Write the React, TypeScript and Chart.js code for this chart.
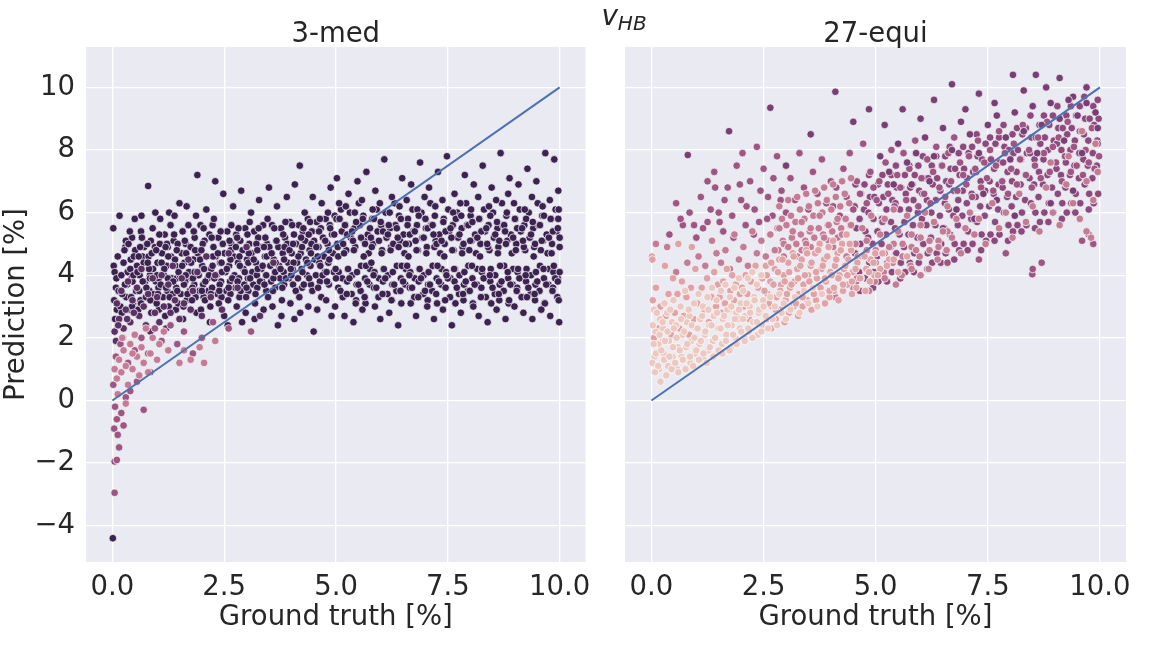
import React, { useEffect, useRef } from 'react';
import { Chart, registerables } from 'chart.js';

Chart.register(...registerables);

// axis ticks and limits, same for both panels
const xTicks = [0, 2.5, 5, 7.5, 10];
const yTicks = [-4, -2, 0, 2, 4, 6, 8, 10];
const xLimits = [-0.59, 10.58];
const yLimits = [-5.16, 11.29];
const identityLine: [number, number][] = [[0, 0], [10, 10]];

// seaborn cubehelix shades, light -> dark
const shades = ['#ebc8c2', '#dda3a6', '#c27c96', '#9d5683', '#8a4a7e', '#5a3163', '#3b2250', '#783f74'];

// 3-med panel
const leftDark: [number, number][] = [
  [0.02, 5.5], [0.03, 4.3], [0.05, 4.1], [0.08, 3.6], [0.04, 3.2], [0.1, 2.9], [0.06, 2.6], [0.09, 3.9], [0.12, 4.6], [0.01, -4.4],
  [0.16, 5.9], [0.2, 4.0], [0.22, 3.4], [0.18, 3.0], [0.25, 4.4], [0.28, 3.7], [0.3, 5.1], [0.21, 2.8], [0.27, 4.8], [0.14, 3.5],
  [0.36, 5.0], [0.4, 4.2], [0.42, 3.3], [0.38, 2.9], [0.45, 3.8], [0.48, 4.6], [0.5, 5.8], [0.44, 3.0], [0.47, 4.0], [0.39, 5.4],
  [0.56, 4.1], [0.6, 3.5], [0.62, 4.9], [0.58, 2.9], [0.65, 5.9], [0.68, 3.8], [0.7, 4.4], [0.64, 3.1], [0.66, 5.2], [0.59, 4.6],
  [0.76, 3.6], [0.8, 6.85], [0.82, 4.2], [0.78, 5.0], [0.85, 3.2], [0.88, 4.7], [0.9, 5.5], [0.84, 3.9], [0.87, 2.8], [0.79, 4.4],
  [0.96, 6.0], [1.0, 4.0], [1.02, 3.4], [0.98, 4.8], [1.05, 5.3], [1.08, 3.7], [1.1, 4.4], [1.04, 2.9], [1.07, 5.8], [0.99, 3.1],
  [1.16, 4.2], [1.2, 3.6], [1.22, 5.0], [1.18, 2.7], [1.25, 4.6], [1.28, 3.3], [1.3, 5.6], [1.24, 3.9], [1.27, 6.0], [1.19, 4.9],
  [1.36, 3.8], [1.4, 4.5], [1.42, 2.9], [1.38, 5.3], [1.45, 3.5], [1.48, 4.1], [1.5, 6.3], [1.44, 4.8], [1.47, 3.1], [1.39, 5.9],
  [1.56, 4.3], [1.6, 3.7], [1.62, 5.1], [1.58, 2.6], [1.65, 4.7], [1.68, 3.4], [1.7, 5.6], [1.64, 4.0], [1.66, 6.2], [1.59, 3.0],
  [1.76, 4.4], [1.8, 3.9], [1.82, 5.4], [1.78, 3.2], [1.85, 4.8], [1.88, 2.8], [1.9, 7.2], [1.84, 4.1], [1.87, 5.9], [1.79, 3.6],
  [1.96, 4.5], [2.0, 3.5], [2.02, 5.0], [1.98, 2.9], [2.05, 4.2], [2.08, 3.8], [2.1, 6.1], [2.04, 5.5], [2.07, 3.2], [1.99, 4.8],
  [2.16, 4.0], [2.2, 3.4], [2.22, 5.2], [2.18, 2.5], [2.25, 4.6], [2.28, 3.9], [2.3, 7.0], [2.24, 4.3], [2.27, 5.8], [2.19, 3.0],
  [2.36, 4.7], [2.4, 3.7], [2.42, 5.4], [2.38, 3.1], [2.45, 4.1], [2.48, 6.6], [2.5, 2.7], [2.44, 4.4], [2.47, 5.0], [2.39, 3.5],
  [2.56, 4.2], [2.6, 3.6], [2.62, 5.1], [2.58, 2.4], [2.65, 4.8], [2.68, 3.9], [2.7, 6.2], [2.64, 4.5], [2.66, 5.6], [2.59, 3.2],
  [2.76, 4.9], [2.8, 3.8], [2.82, 5.5], [2.78, 3.0], [2.85, 4.3], [2.88, 6.7], [2.9, 2.5], [2.84, 4.6], [2.87, 3.5], [2.79, 5.2],
  [2.96, 4.1], [3.0, 3.6], [3.02, 5.3], [2.98, 2.8], [3.05, 4.7], [3.08, 3.9], [3.1, 6.0], [3.04, 4.4], [3.07, 5.7], [2.99, 3.3],
  [3.16, 4.5], [3.2, 3.4], [3.22, 5.0], [3.18, 2.6], [3.25, 4.2], [3.28, 6.4], [3.3, 3.8], [3.24, 4.8], [3.27, 5.5], [3.19, 3.1],
  [3.36, 4.3], [3.4, 3.7], [3.42, 5.2], [3.38, 2.9], [3.45, 4.6], [3.48, 3.3], [3.5, 6.8], [3.44, 4.0], [3.47, 5.8], [3.39, 4.9],
  [3.56, 4.7], [3.6, 3.9], [3.62, 5.5], [3.58, 3.0], [3.65, 4.4], [3.68, 6.2], [3.7, 2.4], [3.64, 4.1], [3.67, 5.1], [3.59, 3.5],
  [3.76, 4.2], [3.8, 3.6], [3.82, 5.3], [3.78, 2.7], [3.85, 4.9], [3.88, 3.9], [3.9, 6.5], [3.84, 4.5], [3.87, 5.7], [3.79, 3.2],
  [3.96, 4.8], [4.0, 4.0], [4.02, 5.6], [3.98, 3.1], [4.05, 4.4], [4.08, 6.9], [4.1, 3.5], [4.04, 5.0], [4.07, 2.6], [3.99, 4.2],
  [4.16, 4.6], [4.19, 7.5], [4.22, 5.2], [4.18, 3.3], [4.25, 4.1], [4.28, 3.7], [4.3, 6.0], [4.24, 4.9], [4.27, 5.5], [4.2, 2.8],
  [4.36, 4.4], [4.4, 3.9], [4.42, 5.7], [4.38, 3.0], [4.45, 5.0], [4.48, 6.5], [4.5, 2.2], [4.44, 4.7], [4.47, 3.5], [4.39, 5.3],
  [4.56, 4.9], [4.6, 3.6], [4.62, 5.4], [4.58, 2.9], [4.65, 4.3], [4.68, 6.3], [4.7, 4.0], [4.64, 5.8], [4.67, 3.3], [4.59, 4.6],
  [4.76, 5.1], [4.8, 3.8], [4.82, 6.0], [4.78, 3.2], [4.85, 4.5], [4.88, 6.8], [4.9, 2.7], [4.84, 4.8], [4.87, 5.5], [4.79, 4.1],
  [4.96, 5.3], [5.0, 3.9], [5.02, 7.1], [4.98, 3.0], [5.05, 4.6], [5.08, 5.8], [5.1, 3.5], [5.04, 4.9], [5.07, 6.3], [4.99, 4.2],
  [5.16, 5.0], [5.2, 5.6], [5.22, 6.2], [5.18, 4.7], [5.25, 5.3], [5.28, 6.6], [5.3, 3.9], [5.24, 3.4], [5.27, 4.2], [5.19, 2.7],
  [5.36, 5.4], [5.4, 4.8], [5.42, 6.0], [5.38, 5.1], [5.45, 5.7], [5.48, 7.0], [5.5, 3.7], [5.44, 3.1], [5.47, 4.1], [5.39, 2.5],
  [5.56, 5.2], [5.6, 5.8], [5.62, 4.6], [5.58, 6.4], [5.65, 5.0], [5.68, 7.3], [5.7, 3.8], [5.64, 3.3], [5.67, 4.3], [5.59, 2.9],
  [5.76, 5.5], [5.8, 4.9], [5.82, 6.1], [5.78, 5.2], [5.85, 5.8], [5.88, 6.7], [5.9, 3.6], [5.84, 4.0], [5.87, 3.0], [5.79, 4.4],
  [5.96, 5.1], [6.0, 5.7], [6.02, 4.7], [5.98, 6.3], [6.05, 5.4], [6.08, 7.7], [6.1, 3.9], [6.04, 3.4], [6.07, 4.2], [5.99, 2.6],
  [6.16, 5.3], [6.2, 6.0], [6.22, 4.8], [6.18, 5.6], [6.25, 6.5], [6.28, 5.0], [6.3, 3.7], [6.24, 3.2], [6.27, 4.1], [6.19, 2.8],
  [6.36, 5.5], [6.4, 4.9], [6.42, 6.2], [6.38, 5.2], [6.45, 5.8], [6.48, 7.1], [6.5, 3.8], [6.44, 3.5], [6.47, 4.3], [6.39, 2.4],
  [6.56, 5.0], [6.6, 5.6], [6.62, 4.6], [6.58, 6.4], [6.65, 5.3], [6.68, 6.9], [6.7, 3.6], [6.64, 4.0], [6.67, 3.1], [6.59, 4.3],
  [6.76, 5.4], [6.8, 4.8], [6.82, 6.1], [6.78, 5.1], [6.85, 5.9], [6.88, 7.6], [6.9, 3.9], [6.84, 3.3], [6.87, 4.2], [6.79, 2.7],
  [6.96, 5.2], [7.0, 5.8], [7.02, 4.7], [6.98, 6.5], [7.05, 5.5], [7.08, 6.8], [7.1, 3.7], [7.04, 3.0], [7.07, 4.1], [6.99, 3.5],
  [7.16, 5.6], [7.2, 4.9], [7.22, 6.2], [7.18, 5.3], [7.25, 5.0], [7.28, 7.3], [7.3, 3.8], [7.24, 3.4], [7.27, 4.3], [7.19, 2.6],
  [7.36, 5.1], [7.4, 5.7], [7.42, 4.6], [7.38, 6.4], [7.45, 5.4], [7.48, 7.8], [7.5, 3.9], [7.44, 3.2], [7.47, 4.0], [7.39, 2.9],
  [7.56, 5.5], [7.6, 4.8], [7.62, 6.0], [7.58, 5.2], [7.65, 6.6], [7.68, 5.8], [7.7, 3.6], [7.64, 4.2], [7.67, 3.1], [7.59, 2.4],
  [7.76, 5.3], [7.8, 5.9], [7.82, 4.7], [7.78, 6.3], [7.85, 5.0], [7.88, 7.2], [7.9, 3.8], [7.84, 3.4], [7.87, 4.1], [7.79, 2.8],
  [7.96, 5.6], [8.0, 5.1], [8.02, 6.1], [7.98, 4.8], [8.05, 5.7], [8.08, 6.9], [8.1, 3.7], [8.04, 4.3], [8.07, 3.0], [7.99, 3.5],
  [8.16, 5.2], [8.2, 5.8], [8.22, 4.6], [8.18, 6.5], [8.25, 5.4], [8.28, 7.5], [8.3, 3.9], [8.24, 3.3], [8.27, 4.2], [8.19, 2.7],
  [8.36, 5.5], [8.4, 4.9], [8.42, 6.2], [8.38, 5.0], [8.45, 5.9], [8.48, 6.8], [8.5, 3.6], [8.44, 4.0], [8.47, 3.1], [8.39, 2.5],
  [8.56, 5.3], [8.6, 5.7], [8.62, 4.7], [8.58, 6.4], [8.65, 5.1], [8.68, 7.9], [8.7, 3.8], [8.64, 3.4], [8.67, 4.3], [8.59, 2.9],
  [8.76, 5.6], [8.8, 5.0], [8.82, 6.0], [8.78, 5.4], [8.85, 6.6], [8.88, 7.1], [8.9, 3.7], [8.84, 4.1], [8.87, 3.2], [8.79, 2.6],
  [8.96, 5.2], [9.0, 5.8], [9.02, 4.8], [8.98, 6.3], [9.05, 5.5], [9.08, 6.9], [9.1, 3.9], [9.04, 3.5], [9.07, 4.2], [8.99, 3.0],
  [9.16, 5.5], [9.2, 4.9], [9.22, 6.1], [9.18, 5.1], [9.25, 5.8], [9.28, 7.4], [9.3, 3.6], [9.24, 4.0], [9.27, 3.3], [9.19, 2.8],
  [9.36, 5.3], [9.4, 5.7], [9.42, 4.6], [9.38, 6.5], [9.45, 5.0], [9.48, 7.0], [9.5, 3.8], [9.44, 3.4], [9.47, 4.1], [9.39, 2.6],
  [9.56, 5.6], [9.6, 5.1], [9.62, 6.2], [9.58, 4.8], [9.65, 5.9], [9.68, 7.9], [9.7, 3.7], [9.64, 4.2], [9.67, 3.1], [9.59, 2.9],
  [9.76, 5.2], [9.8, 5.8], [9.82, 4.7], [9.78, 6.4], [9.85, 5.4], [9.88, 7.7], [9.9, 3.9], [9.84, 3.5], [9.87, 4.3], [9.79, 2.7],
  [9.96, 5.5], [10.0, 4.9], [9.98, 6.1], [9.97, 6.7], [10.0, 5.2], [9.99, 2.5], [9.96, 3.8], [10.0, 4.1], [9.98, 3.2], [9.97, 5.8],
];
// dense middle of the 3-med cloud
const leftDarkCore: [number, number][] = [
  [0.31, 3.3], [0.34, 4.1], [0.29, 4.9], [0.33, 3.7], [0.43, 3.9], [0.41, 4.5], [0.46, 3.1], [0.44, 5.2],
  [0.53, 3.5], [0.55, 4.3], [0.51, 4.8], [0.57, 2.9], [0.63, 3.2], [0.61, 4.0], [0.67, 4.6], [0.64, 5.4],
  [0.73, 3.8], [0.71, 4.9], [0.75, 3.3], [0.77, 4.4], [0.83, 3.5], [0.81, 4.6], [0.86, 5.1], [0.84, 4.0],
  [0.93, 3.4], [0.91, 4.2], [0.95, 4.9], [0.97, 3.8], [1.03, 3.6], [1.01, 4.4], [1.06, 5.0], [1.04, 3.9],
  [1.13, 3.3], [1.11, 4.7], [1.15, 4.0], [1.17, 5.3], [1.23, 3.5], [1.21, 4.3], [1.26, 3.0], [1.24, 4.9],
  [1.33, 3.9], [1.31, 4.6], [1.35, 3.4], [1.37, 5.1], [1.43, 3.6], [1.41, 4.3], [1.46, 5.0], [1.44, 3.9],
  [1.53, 3.4], [1.51, 4.0], [1.55, 4.7], [1.57, 5.4], [1.63, 3.8], [1.61, 4.4], [1.66, 3.2], [1.64, 5.0],
  [1.73, 3.5], [1.71, 4.1], [1.75, 4.9], [1.77, 3.9], [1.83, 3.7], [1.81, 4.5], [1.86, 3.3], [1.84, 5.2],
  [1.93, 4.0], [1.91, 4.7], [1.95, 3.5], [1.97, 5.6], [2.03, 3.7], [2.01, 4.3], [2.06, 5.1], [2.04, 3.3],
  [2.13, 3.9], [2.11, 4.6], [2.15, 3.5], [2.17, 5.3], [2.23, 3.6], [2.21, 4.2], [2.26, 4.9], [2.24, 5.6],
  [2.33, 4.0], [2.31, 4.6], [2.35, 3.4], [2.37, 5.2], [2.43, 3.8], [2.41, 4.4], [2.46, 5.0], [2.44, 3.3],
  [2.53, 4.1], [2.51, 4.7], [2.55, 3.5], [2.57, 5.4], [2.63, 3.8], [2.61, 4.3], [2.66, 5.0], [2.64, 3.4],
  [2.73, 4.0], [2.71, 4.6], [2.75, 3.6], [2.77, 5.3], [2.83, 3.9], [2.81, 4.4], [2.86, 5.1], [2.84, 3.3],
  [2.93, 4.2], [2.91, 4.8], [2.95, 3.7], [2.97, 5.5], [3.03, 3.9], [3.01, 4.5], [3.06, 5.0], [3.04, 3.5],
  [3.13, 4.1], [3.11, 4.7], [3.15, 3.7], [3.17, 5.4], [3.23, 4.0], [3.21, 4.4], [3.26, 5.2], [3.24, 3.6],
  [3.33, 4.2], [3.31, 4.9], [3.35, 3.8], [3.37, 5.6], [3.43, 4.0], [3.41, 4.6], [3.46, 5.0], [3.44, 3.5],
  [3.53, 4.3], [3.51, 4.9], [3.55, 3.8], [3.57, 5.6], [3.63, 4.1], [3.61, 4.5], [3.66, 5.1], [3.64, 3.6],
  [3.73, 4.3], [3.71, 4.9], [3.75, 3.9], [3.77, 5.5], [3.83, 4.1], [3.81, 4.7], [3.86, 5.2], [3.84, 3.7],
  [3.93, 4.4], [3.91, 5.0], [3.95, 3.9], [3.97, 5.7], [4.03, 4.2], [4.01, 4.7], [4.06, 5.3], [4.04, 3.7],
  [4.13, 4.4], [4.11, 5.0], [4.15, 3.9], [4.17, 5.6], [4.23, 4.2], [4.21, 4.7], [4.26, 5.4], [4.24, 3.6],
  [4.33, 4.5], [4.31, 5.1], [4.35, 4.0], [4.37, 5.8], [4.43, 4.3], [4.41, 4.8], [4.46, 5.4], [4.44, 3.7],
  [4.53, 4.5], [4.51, 5.1], [4.55, 4.0], [4.57, 5.7], [4.63, 4.4], [4.61, 4.9], [4.66, 5.5], [4.64, 3.8],
  [4.73, 4.6], [4.71, 5.2], [4.75, 4.1], [4.77, 5.8], [4.83, 4.4], [4.81, 5.0], [4.86, 5.6], [4.84, 3.7],
  [4.93, 4.7], [4.91, 5.3], [4.95, 4.1], [4.97, 5.9],
  [5.03, 5.0], [5.01, 5.8], [5.05, 3.6], [5.06, 4.1], [5.13, 5.4], [5.11, 6.1], [5.15, 3.3], [5.14, 3.9],
  [5.23, 4.8], [5.21, 5.6], [5.25, 3.8], [5.26, 4.2], [5.33, 5.2], [5.31, 6.0], [5.35, 3.4], [5.36, 4.0],
  [5.43, 4.9], [5.41, 5.5], [5.45, 3.2], [5.46, 3.7], [5.53, 5.6], [5.51, 6.3], [5.55, 3.5], [5.56, 4.3],
  [5.63, 5.1], [5.61, 5.9], [5.65, 3.9], [5.66, 3.1], [5.73, 4.7], [5.71, 5.3], [5.75, 3.7], [5.76, 4.2],
  [5.83, 5.0], [5.81, 5.8], [5.85, 3.6], [5.86, 4.1], [5.93, 5.4], [5.91, 6.1], [5.95, 3.3], [5.96, 3.9],
  [6.03, 4.8], [6.01, 5.6], [6.05, 3.8], [6.06, 4.2], [6.13, 5.2], [6.11, 6.0], [6.15, 3.4], [6.16, 4.0],
  [6.23, 4.9], [6.21, 5.5], [6.25, 3.2], [6.26, 3.7], [6.33, 5.6], [6.31, 6.3], [6.35, 3.5], [6.36, 4.3],
  [6.43, 5.1], [6.41, 5.9], [6.45, 3.9], [6.46, 3.1], [6.53, 4.7], [6.51, 5.3], [6.55, 3.7], [6.56, 4.2],
  [6.63, 5.0], [6.61, 5.8], [6.65, 3.6], [6.66, 4.1], [6.73, 5.4], [6.71, 6.1], [6.75, 3.3], [6.76, 3.9],
  [6.83, 4.8], [6.81, 5.6], [6.85, 3.8], [6.86, 4.2], [6.93, 5.2], [6.91, 6.0], [6.95, 3.4], [6.96, 4.0],
  [7.03, 4.9], [7.01, 5.5], [7.05, 3.2], [7.06, 3.7], [7.13, 5.6], [7.11, 6.3], [7.15, 3.5], [7.16, 4.3],
  [7.23, 5.1], [7.21, 5.9], [7.25, 3.9], [7.26, 3.1], [7.33, 4.7], [7.31, 5.3], [7.35, 3.7], [7.36, 4.2],
  [7.43, 5.0], [7.41, 5.8], [7.45, 3.6], [7.46, 4.1], [7.53, 5.4], [7.51, 6.1], [7.55, 3.3], [7.56, 3.9],
  [7.63, 4.8], [7.61, 5.6], [7.65, 3.8], [7.66, 4.2], [7.73, 5.2], [7.71, 6.0], [7.75, 3.4], [7.76, 4.0],
  [7.83, 4.9], [7.81, 5.5], [7.85, 3.2], [7.86, 3.7], [7.93, 5.6], [7.91, 6.3], [7.95, 3.5], [7.96, 4.3],
  [8.03, 5.1], [8.01, 5.9], [8.05, 3.9], [8.06, 3.1], [8.13, 4.7], [8.11, 5.3], [8.15, 3.7], [8.16, 4.2],
  [8.23, 5.0], [8.21, 5.8], [8.25, 3.6], [8.26, 4.1], [8.33, 5.4], [8.31, 6.1], [8.35, 3.3], [8.36, 3.9],
  [8.43, 4.8], [8.41, 5.6], [8.45, 3.8], [8.46, 4.2], [8.53, 5.2], [8.51, 6.0], [8.55, 3.4], [8.56, 4.0],
  [8.63, 4.9], [8.61, 5.5], [8.65, 3.2], [8.66, 3.7], [8.73, 5.6], [8.71, 6.3], [8.75, 3.5], [8.76, 4.3],
  [8.83, 5.1], [8.81, 5.9], [8.85, 3.9], [8.86, 3.1], [8.93, 4.7], [8.91, 5.3], [8.95, 3.7], [8.96, 4.2],
  [9.03, 5.0], [9.01, 5.8], [9.05, 3.6], [9.06, 4.1], [9.13, 5.4], [9.11, 6.1], [9.15, 3.3], [9.16, 3.9],
  [9.23, 4.8], [9.21, 5.6], [9.25, 3.8], [9.26, 4.2], [9.33, 5.2], [9.31, 6.0], [9.35, 3.4], [9.36, 4.0],
  [9.43, 4.9], [9.41, 5.5], [9.45, 3.2], [9.46, 3.7], [9.53, 5.6], [9.51, 6.3], [9.55, 3.5], [9.56, 4.3],
  [9.63, 5.1], [9.61, 5.9], [9.65, 3.9], [9.66, 3.1], [9.73, 4.7], [9.71, 5.3], [9.75, 3.7], [9.76, 4.2],
  [9.83, 5.0], [9.81, 5.8], [9.85, 3.6], [9.86, 4.1], [9.93, 5.4], [9.91, 6.1], [9.95, 3.3], [9.96, 3.9],
];
const leftMid: [number, number][] = [
  [0.05, 2.2], [0.1, 3.1], [0.08, 1.9], [0.15, 2.6], [0.2, 3.5], [0.25, 2.3], [0.3, 2.9], [0.35, 3.8], [0.4, 2.5], [0.45, 3.2],
  [0.5, 2.1], [0.55, 3.6], [0.6, 2.7], [0.65, 4.2], [0.7, 3.0], [0.75, 2.4], [0.8, 3.4], [0.85, 2.2], [0.9, 3.9], [0.95, 2.8],
  [1.0, 3.3], [1.05, 2.5], [1.1, 4.0], [1.15, 3.0], [1.2, 2.3], [1.25, 3.7], [1.3, 2.8], [1.35, 4.3], [1.4, 3.2], [1.5, 2.6],
  [1.55, 3.9], [1.6, 3.1], [1.7, 4.5], [1.75, 2.9], [1.8, 3.5], [1.9, 4.1], [2.0, 2.7], [2.1, 4.6], [2.2, 3.3], [2.3, 4.0],
  [2.45, 2.9], [2.6, 4.7], [2.8, 3.6], [3.0, 4.9], [3.3, 2.7], [3.6, 4.4], [0.13, 2.4], [0.23, 2.0], [0.33, 2.6], [0.48, 2.8],
];
const leftRose: [number, number][] = [
  [0.02, 0.5], [0.06, -0.2], [0.1, -0.6], [0.04, -0.9], [0.15, -1.5], [0.05, -1.95], [0.1, -1.9], [0.05, -2.95], [0.2, -0.4], [0.12, -1.1],
  [0.25, -0.8], [0.3, 0.1], [0.08, 1.4], [0.18, 1.8], [0.35, 1.2], [0.5, 1.6], [0.65, 2.0], [0.8, 1.5], [0.95, 2.3], [1.1, 1.9],
  [1.3, 2.4], [1.45, 1.8], [1.6, 2.2], [1.8, 1.5], [2.0, 2.0], [2.25, 2.5], [2.6, 2.3], [3.1, 2.2], [0.4, 0.3], [0.7, -0.3],
  [0.55, 0.6], [0.85, 0.9],
];
const leftPink: [number, number][] = [
  [0.05, 1.0], [0.1, 0.7], [0.15, 1.3], [0.2, 0.9], [0.25, 1.6], [0.3, 1.1], [0.35, 0.5], [0.4, 1.8], [0.45, 1.0], [0.5, 2.1],
  [0.55, 1.4], [0.6, 0.8], [0.65, 1.7], [0.7, 1.2], [0.75, 2.3], [0.8, 0.9], [0.85, 1.5], [0.9, 2.0], [1.0, 1.3], [1.05, 1.8],
  [1.15, 2.2], [1.25, 1.6], [1.5, 1.2], [1.6, 1.6], [1.75, 1.3], [1.95, 1.7], [2.05, 1.2], [2.3, 1.9], [0.12, 0.2], [0.3, -0.1],
  [0.45, 1.5], [0.22, 2.0],
];

// 27-equi panel
const rightLight: [number, number][] = [
  [0.02, 1.2], [0.05, 1.8], [0.03, 2.4], [0.08, 0.9], [0.1, 1.5], [0.12, 2.8], [0.15, 1.1], [0.18, 2.1], [0.2, 0.6], [0.22, 1.6],
  [0.25, 2.5], [0.28, 1.3], [0.3, 1.9], [0.33, 0.8], [0.36, 2.2], [0.4, 1.4], [0.42, 2.9], [0.45, 1.0], [0.48, 1.7], [0.5, 2.3],
  [0.53, 1.2], [0.56, 2.0], [0.6, 0.9], [0.63, 1.6], [0.66, 2.6], [0.7, 1.3], [0.73, 2.2], [0.76, 1.0], [0.8, 1.8], [0.83, 2.9],
  [0.86, 1.4], [0.9, 2.4], [0.93, 1.1], [0.96, 2.0], [1.0, 1.6], [1.03, 2.3], [1.06, 1.3], [1.1, 1.9], [1.13, 2.7], [1.16, 1.5],
  [1.2, 2.2], [1.23, 1.2], [1.27, 2.9], [1.3, 1.7], [1.34, 2.4], [1.38, 1.4], [1.42, 2.0], [1.46, 2.8], [1.5, 1.6], [1.54, 2.3],
  [1.58, 1.5], [1.62, 2.7], [1.66, 1.9], [1.7, 2.4], [1.74, 1.6], [1.78, 3.0], [1.82, 2.1], [1.86, 2.6], [1.9, 1.8], [1.95, 2.9],
  [2.0, 2.2], [2.04, 2.6], [2.08, 1.9], [2.12, 3.1], [2.16, 2.3], [2.2, 2.8], [2.25, 2.0], [2.3, 3.2], [2.35, 2.5], [2.4, 2.9],
  [2.45, 2.2], [2.5, 3.0], [2.55, 2.7], [2.6, 2.3], [2.65, 3.3], [2.7, 2.6], [2.75, 3.0], [2.8, 2.4], [2.85, 3.4], [2.9, 2.8],
  [2.95, 3.1], [3.0, 2.6], [3.1, 2.9], [3.2, 3.3], [3.3, 2.8], [3.4, 3.5], [3.5, 3.1], [3.6, 3.6], [3.7, 3.0], [3.8, 3.4],
];
const rightLightCore: [number, number][] = [
  [0.07, 1.4], [0.09, 2.2], [0.06, 2.9], [0.17, 1.0], [0.16, 1.8], [0.19, 2.6], [0.27, 1.5], [0.26, 2.3], [0.29, 3.1],
  [0.37, 1.1], [0.39, 1.9], [0.35, 2.8], [0.47, 1.4], [0.46, 2.5], [0.49, 3.2], [0.57, 1.0], [0.59, 1.7], [0.55, 2.4],
  [0.67, 1.4], [0.69, 2.1], [0.65, 3.0], [0.77, 1.7], [0.79, 2.5], [0.75, 3.5], [0.87, 1.2], [0.89, 1.9], [0.85, 2.7],
  [0.97, 1.5], [0.99, 2.3], [0.95, 3.1], [1.07, 1.8], [1.09, 2.6], [1.05, 3.4], [1.17, 1.3], [1.19, 2.1], [1.15, 3.0],
  [1.27, 1.6], [1.29, 2.4], [1.25, 3.3], [1.37, 1.9], [1.39, 2.7], [1.35, 3.6], [1.47, 1.5], [1.49, 2.3], [1.45, 3.2],
  [1.57, 1.8], [1.59, 2.6], [1.55, 3.5], [1.67, 2.1], [1.69, 2.9], [1.65, 3.7], [1.77, 1.7], [1.79, 2.4], [1.75, 3.3],
  [1.87, 2.0], [1.89, 2.8], [1.85, 3.6], [1.97, 2.3], [1.99, 3.1], [1.95, 3.9], [2.07, 2.0], [2.09, 2.7], [2.05, 3.5],
  [2.17, 2.2], [2.19, 3.0], [2.15, 3.9], [2.27, 2.5], [2.29, 3.3], [2.25, 4.1], [2.37, 2.1], [2.39, 2.8], [2.35, 3.7],
  [2.47, 2.4], [2.49, 3.2], [2.45, 4.0],
];
const rightPale: [number, number][] = [
  [0.03, 3.2], [0.06, 2.0], [0.1, 3.6], [0.14, 2.3], [0.2, 3.0], [0.26, 1.9], [0.32, 2.7], [0.38, 3.4], [0.44, 2.1], [0.48, 3.9],
  [0.01, 4.6], [0.02, 4.5], [0.3, 4.3], [0.52, 2.8], [0.58, 3.4], [0.62, 2.3], [0.68, 3.8], [0.72, 2.7], [0.78, 3.3], [0.84, 2.1],
  [0.88, 3.6], [0.94, 2.6], [0.98, 4.2], [0.6, 5.0], [0.9, 4.9], [1.02, 3.1], [1.08, 2.6], [1.12, 3.6], [1.18, 2.9], [1.24, 3.9],
  [1.28, 2.5], [1.34, 3.3], [1.4, 4.1], [1.44, 3.0], [1.48, 3.7], [1.52, 3.3], [1.56, 2.8], [1.6, 3.8], [1.64, 3.1], [1.68, 4.2],
  [1.72, 2.9], [1.76, 3.5], [1.8, 4.0], [1.84, 3.2], [1.88, 3.7], [1.92, 2.6], [1.97, 3.4], [2.02, 3.6], [2.06, 3.0], [2.1, 4.0],
  [2.14, 3.4], [2.18, 2.6], [2.22, 3.8], [2.28, 3.3], [2.32, 4.3], [2.38, 3.6], [2.42, 2.8], [2.47, 3.9], [2.52, 3.5], [2.57, 4.0],
  [2.62, 3.1], [2.67, 4.4], [2.72, 3.7], [2.77, 2.9], [2.82, 4.1], [2.87, 3.5], [2.92, 4.5], [2.97, 3.8], [3.02, 3.4], [3.07, 4.1],
  [3.12, 3.7], [3.17, 4.6], [3.22, 3.1], [3.27, 3.9], [3.32, 4.3], [3.37, 3.3], [3.42, 4.0], [3.47, 4.7], [3.52, 3.8], [3.57, 4.4],
  [3.62, 3.4], [3.67, 4.1], [3.72, 4.8], [3.77, 3.6], [3.82, 4.3], [3.87, 3.9], [3.92, 4.6], [3.97, 3.5], [4.02, 4.0], [4.07, 3.6],
  [4.12, 4.5], [4.17, 3.9], [4.22, 4.8], [4.27, 3.7], [4.32, 4.3], [4.37, 4.0], [4.42, 5.0], [4.47, 3.8], [4.55, 4.2], [4.65, 3.9],
  [4.75, 4.6], [4.85, 4.1], [4.95, 4.4], [5.05, 4.0], [5.15, 4.7], [5.25, 4.3], [5.4, 4.5], [5.5, 4.1], [5.7, 4.6],
];
const rightPaleCore: [number, number][] = [
  [2.57, 2.6], [2.59, 3.4], [2.55, 4.3], [2.67, 2.3], [2.69, 3.0], [2.65, 3.8], [2.77, 2.6], [2.79, 3.3], [2.75, 4.2],
  [2.87, 2.9], [2.89, 3.7], [2.85, 4.5], [2.97, 2.5], [2.99, 3.2], [2.95, 4.0], [3.07, 2.8], [3.09, 3.6], [3.05, 4.4],
  [3.17, 3.0], [3.19, 3.8], [3.15, 4.7], [3.27, 2.7], [3.29, 3.4], [3.25, 4.2], [3.37, 3.0], [3.39, 3.7], [3.35, 4.5],
  [3.47, 3.2], [3.49, 4.0], [3.45, 4.8], [3.57, 2.9], [3.59, 3.6], [3.55, 4.3], [3.67, 3.2], [3.69, 3.9], [3.65, 4.7],
  [3.77, 3.4], [3.79, 4.2], [3.75, 5.0], [3.87, 3.1], [3.89, 3.8], [3.85, 4.5], [3.97, 3.3], [3.99, 4.1], [3.95, 4.9],
  [4.07, 3.5], [4.09, 4.3], [4.05, 5.1], [4.17, 3.2], [4.19, 4.0], [4.15, 4.7], [4.27, 3.5], [4.29, 4.2], [4.25, 5.0],
  [4.37, 3.7], [4.39, 4.5], [4.35, 5.3], [4.47, 3.4], [4.49, 4.1], [4.45, 4.8], [4.57, 3.6], [4.59, 4.4], [4.67, 3.9],
  [4.69, 4.6], [4.77, 3.5], [4.79, 4.2], [4.87, 3.8], [4.89, 4.5], [4.97, 4.0], [4.99, 4.7], [5.1, 4.2], [5.3, 4.5],
];
const rightRose: [number, number][] = [
  [0.1, 5.0], [0.35, 4.9], [0.55, 4.1], [0.8, 4.4], [1.05, 4.6], [1.2, 4.3], [1.35, 5.1], [1.45, 4.7], [1.55, 4.4], [1.65, 4.8],
  [1.75, 4.2], [1.85, 5.3], [1.95, 4.5], [2.05, 4.9], [2.15, 4.3], [2.25, 5.4], [2.35, 4.7], [2.45, 5.1], [2.55, 4.6], [2.65, 5.3],
  [2.75, 4.8], [2.85, 5.5], [2.95, 5.0], [3.05, 4.9], [3.15, 5.4], [3.25, 4.6], [3.35, 5.7], [3.45, 5.0], [3.55, 5.5], [3.65, 4.7],
  [3.75, 5.9], [3.85, 5.2], [3.95, 5.6], [4.05, 4.9], [4.15, 5.8], [4.25, 5.3], [4.35, 4.6], [4.45, 5.6], [4.55, 5.0], [4.6, 4.6],
  [4.7, 5.5], [4.8, 5.1], [4.9, 5.9], [5.0, 4.8], [4.1, 3.3], [4.5, 3.6], [4.85, 3.5], [5.2, 3.9], [5.45, 3.7], [5.8, 4.2],
  [6.0, 4.0], [5.1, 5.3], [5.2, 5.8], [5.3, 4.9], [5.4, 6.1], [5.5, 5.4], [5.6, 5.0], [5.7, 5.9], [5.8, 5.3], [5.9, 4.8],
  [6.0, 5.6], [6.1, 6.0], [6.2, 5.1], [6.3, 5.7], [6.4, 4.9], [6.5, 5.4], [6.6, 6.2], [6.7, 5.2], [6.8, 5.8], [6.9, 4.7],
  [7.0, 5.5], [7.1, 6.0], [7.2, 5.3], [7.3, 5.8], [7.45, 5.0], [7.6, 6.3], [7.75, 5.5], [7.9, 6.0], [8.05, 5.2], [8.2, 6.6],
  [8.35, 5.7], [8.5, 6.2], [8.65, 5.4], [8.8, 6.8], [8.95, 6.0], [9.1, 5.6], [9.25, 6.9], [9.4, 6.3], [9.55, 5.8], [9.7, 7.0],
  [9.85, 6.4], [9.95, 7.3], [9.9, 8.2], [9.6, 8.6], [9.3, 7.8], [8.9, 7.6], [9.8, 5.2], [9.7, 5.4],
];
// rose band between the pale cloud and the upper scatter
const rightRoseCore: [number, number][] = [
  [2.83, 4.8], [2.81, 5.5], [2.85, 6.2], [2.93, 5.1], [2.91, 5.8], [2.95, 4.6], [3.03, 4.9], [3.01, 5.6], [3.05, 6.4],
  [3.13, 5.2], [3.11, 5.9], [3.15, 4.7], [3.23, 5.0], [3.21, 5.7], [3.25, 6.5], [3.33, 5.3], [3.31, 6.1], [3.35, 4.8],
  [3.43, 5.1], [3.41, 5.8], [3.45, 6.6], [3.53, 5.4], [3.51, 6.2], [3.55, 4.9], [3.63, 5.2], [3.61, 5.9], [3.65, 6.7],
  [3.73, 5.5], [3.71, 6.3], [3.75, 5.0], [3.83, 5.3], [3.81, 6.0], [3.85, 6.8], [3.93, 5.6], [3.91, 6.4], [3.95, 5.1],
  [4.03, 5.4], [4.01, 6.1], [4.05, 6.9], [4.13, 5.7], [4.11, 6.5], [4.15, 5.2], [4.23, 5.5], [4.21, 6.2], [4.25, 7.0],
  [4.33, 5.8], [4.31, 6.6], [4.35, 5.3], [4.43, 5.6], [4.41, 6.3], [4.45, 7.1],
  [4.58, 3.9], [4.6, 4.5], [4.78, 4.2], [4.8, 4.8], [4.98, 3.8], [5.0, 4.4], [5.18, 4.1], [5.2, 4.7], [5.38, 4.4],
  [5.4, 5.0], [5.58, 4.0], [5.6, 4.6], [5.78, 4.3], [5.8, 4.9], [5.98, 4.6], [6.0, 5.2], [6.18, 4.2], [6.2, 4.8],
  [6.38, 4.5], [6.4, 5.1], [6.58, 4.8], [6.6, 5.4],
];
const rightMauve: [number, number][] = [
  [0.4, 5.3], [0.55, 6.3], [0.7, 5.6], [0.85, 6.0], [1.0, 5.2], [1.1, 6.5], [1.25, 5.7], [1.4, 7.3], [1.5, 6.0], [1.6, 5.4],
  [1.7, 6.8], [1.8, 5.9], [1.9, 7.5], [2.0, 6.4], [2.1, 5.6], [2.2, 7.0], [2.3, 6.1], [2.4, 5.7], [2.5, 7.4], [2.6, 6.5],
  [2.7, 5.9], [2.8, 7.8], [2.9, 6.7], [3.0, 6.0], [3.1, 7.1], [3.2, 6.4], [3.3, 7.9], [3.4, 6.8], [3.5, 6.1], [3.6, 7.3],
  [3.7, 6.6], [3.8, 7.7], [3.9, 6.3], [4.0, 7.0], [4.05, 6.2], [4.12, 6.8], [4.2, 5.9], [4.28, 7.4], [4.35, 6.5], [4.42, 7.9],
  [4.5, 6.1], [4.58, 7.0], [4.65, 6.6], [4.72, 8.2], [4.8, 6.3], [4.88, 7.3], [4.95, 6.8], [5.02, 6.4], [5.08, 7.0], [5.15, 5.7],
  [5.22, 7.6], [5.28, 6.6], [5.35, 8.0], [5.42, 6.2], [5.48, 7.2], [5.55, 6.8], [5.62, 7.9], [5.68, 6.4], [5.75, 7.4], [5.82, 6.9],
  [5.88, 8.3], [5.95, 6.2], [6.02, 7.1], [6.08, 6.6], [6.15, 7.7], [6.22, 6.3], [6.28, 7.3], [6.35, 8.1], [6.42, 6.8], [6.48, 7.5],
  [6.55, 6.5], [6.62, 7.9], [6.68, 7.0], [6.75, 8.4], [6.82, 6.7], [6.88, 7.6], [6.95, 7.2], [7.02, 6.9], [7.08, 7.8], [7.15, 6.5],
  [7.22, 7.4], [7.28, 8.3], [7.35, 6.8], [7.42, 7.6], [7.48, 7.1], [7.55, 8.0], [7.62, 6.7], [7.68, 7.5], [7.75, 8.6], [7.82, 7.0],
  [7.88, 7.9], [7.95, 6.6], [8.02, 7.4], [8.08, 8.2], [8.15, 6.9], [8.22, 7.7], [8.28, 8.8], [8.35, 7.2], [8.42, 8.0], [8.48, 6.8],
  [8.55, 7.5], [8.62, 8.4], [8.68, 7.1], [8.75, 7.9], [8.82, 8.9], [8.88, 7.3], [8.95, 8.1], [9.02, 7.6], [9.08, 8.4], [9.15, 7.0],
  [9.22, 7.8], [9.28, 8.9], [9.35, 7.3], [9.42, 8.1], [9.48, 7.5], [9.55, 8.6], [9.62, 7.2], [9.68, 8.0], [9.75, 7.6], [9.82, 8.7],
  [9.88, 7.4], [9.95, 8.2], [9.98, 7.8], [7.9, 4.7], [8.49, 4.03], [8.5, 4.2], [8.7, 4.4], [9.6, 5.1], [9.75, 5.3], [9.85, 5.0],
  [7.3, 4.5], [6.6, 4.4],
  [1.15, 5.5], [1.32, 6.1], [1.52, 5.7], [1.63, 6.4], [1.83, 5.2], [1.97, 6.9], [2.12, 6.2], [2.28, 5.3], [2.43, 6.7], [2.58, 5.8],
  [2.72, 7.1], [2.88, 6.4], [0.95, 5.6], [0.65, 5.8], [1.42, 6.8], [2.03, 7.9], [2.35, 8.1], [1.25, 7.0],
];
// dense band of the 27-equi cloud, x from 4.5 to 10
const rightMauveCore: [number, number][] = [
  [4.56, 3.8], [4.54, 4.7], [4.57, 5.5], [4.53, 6.2], [4.55, 6.9], [4.63, 4.1], [4.66, 5.0], [4.64, 5.8], [4.67, 6.6], [4.65, 3.5],
  [4.76, 3.9], [4.73, 4.6], [4.77, 5.4], [4.74, 6.1], [4.75, 6.9], [4.86, 4.4], [4.83, 5.2], [4.84, 6.0], [4.87, 6.5], [4.85, 7.2],
  [4.96, 4.1], [4.93, 5.0], [4.95, 5.8], [4.97, 6.5], [4.94, 3.6], [5.06, 3.8], [5.03, 4.6], [5.04, 5.4], [5.07, 6.3], [5.05, 6.9],
  [5.16, 4.1], [5.13, 5.0], [5.14, 5.8], [5.17, 6.5], [5.15, 7.2], [5.26, 4.4], [5.23, 5.3], [5.24, 6.1], [5.27, 6.9], [5.25, 3.8],
  [5.36, 4.1], [5.33, 4.9], [5.34, 5.7], [5.37, 6.4], [5.35, 7.2], [5.46, 4.7], [5.43, 5.5], [5.44, 6.3], [5.47, 6.8], [5.45, 7.5],
  [5.56, 4.4], [5.53, 5.3], [5.54, 6.1], [5.57, 6.8], [5.55, 3.9], [5.66, 4.1], [5.63, 4.9], [5.64, 5.7], [5.67, 6.6], [5.65, 7.2],
  [5.76, 4.4], [5.73, 5.3], [5.74, 6.1], [5.77, 6.8], [5.75, 7.5], [5.86, 4.7], [5.83, 5.6], [5.84, 6.4], [5.87, 7.2], [5.85, 4.1],
  [5.96, 4.4], [5.93, 5.2], [5.94, 6.0], [5.97, 6.7], [5.95, 7.5], [6.06, 5.0], [6.03, 5.8], [6.04, 6.6], [6.07, 7.1], [6.05, 7.8],
  [6.16, 4.7], [6.13, 5.6], [6.14, 6.4], [6.17, 7.1], [6.15, 4.2], [6.26, 4.4], [6.23, 5.2], [6.24, 6.0], [6.27, 6.9], [6.25, 7.5],
  [6.36, 4.7], [6.33, 5.6], [6.34, 6.4], [6.37, 7.1], [6.35, 7.8], [6.46, 5.0], [6.43, 5.9], [6.44, 6.7], [6.47, 7.5], [6.45, 4.4],
  [6.56, 4.7], [6.53, 5.5], [6.54, 6.3], [6.57, 7.0], [6.55, 7.8], [6.66, 5.3], [6.63, 6.1], [6.64, 6.9], [6.67, 7.4], [6.65, 8.1],
  [6.76, 5.0], [6.73, 5.9], [6.74, 6.7], [6.77, 7.4], [6.75, 4.5], [6.86, 4.8], [6.83, 5.6], [6.84, 6.4], [6.87, 7.2], [6.85, 7.9],
  [6.96, 5.0], [6.93, 5.9], [6.94, 6.7], [6.97, 7.4], [6.95, 8.1], [7.06, 5.4], [7.03, 6.3], [7.04, 7.1], [7.07, 7.9], [7.05, 4.8],
  [7.16, 5.0], [7.13, 5.8], [7.14, 6.6], [7.17, 7.3], [7.15, 8.1], [7.26, 5.7], [7.23, 6.5], [7.24, 7.3], [7.27, 7.8], [7.25, 8.5],
  [7.36, 5.3], [7.33, 6.2], [7.34, 7.0], [7.37, 7.7], [7.35, 4.8], [7.46, 5.1], [7.43, 5.9], [7.44, 6.7], [7.47, 7.6], [7.45, 8.2],
  [7.56, 5.3], [7.53, 6.2], [7.54, 7.0], [7.57, 7.7], [7.55, 8.4], [7.66, 5.7], [7.63, 6.6], [7.64, 7.4], [7.67, 8.2], [7.65, 5.1],
  [7.76, 5.3], [7.73, 6.1], [7.74, 6.9], [7.77, 7.6], [7.75, 8.4], [7.86, 6.0], [7.83, 6.8], [7.84, 7.6], [7.87, 8.1], [7.85, 8.8],
  [7.96, 5.6], [7.93, 6.5], [7.94, 7.3], [7.97, 8.0], [7.95, 5.1], [8.06, 5.4], [8.03, 6.2], [8.04, 7.0], [8.07, 7.9], [8.05, 8.5],
  [8.16, 5.6], [8.13, 6.5], [8.14, 7.3], [8.17, 8.0], [8.15, 8.7], [8.26, 6.0], [8.23, 6.9], [8.24, 7.7], [8.27, 8.5], [8.25, 5.4],
  [8.36, 5.6], [8.33, 6.4], [8.34, 7.2], [8.37, 7.9], [8.35, 8.7], [8.46, 6.3], [8.43, 7.1], [8.44, 7.9], [8.47, 8.4], [8.45, 9.1],
  [8.56, 6.0], [8.53, 6.9], [8.54, 7.7], [8.57, 8.4], [8.55, 5.5], [8.66, 5.7], [8.63, 6.5], [8.64, 7.3], [8.67, 8.2], [8.65, 8.8],
  [8.76, 6.0], [8.73, 6.9], [8.74, 7.7], [8.77, 8.4], [8.75, 9.1], [8.86, 6.3], [8.83, 7.2], [8.84, 8.0], [8.87, 8.8], [8.85, 5.7],
  [8.96, 6.0], [8.93, 6.8], [8.94, 7.6], [8.97, 8.3], [8.95, 9.1], [9.06, 6.6], [9.03, 7.4], [9.04, 8.2], [9.07, 8.7], [9.05, 9.4],
  [9.16, 6.3], [9.13, 7.2], [9.14, 8.0], [9.17, 8.7], [9.15, 5.8], [9.26, 6.0], [9.23, 6.8], [9.24, 7.6], [9.27, 8.5], [9.25, 9.1],
  [9.36, 6.3], [9.33, 7.2], [9.34, 8.0], [9.37, 8.7], [9.35, 9.4], [9.46, 6.6], [9.43, 7.5], [9.44, 8.3], [9.47, 9.1], [9.45, 6.0],
  [9.56, 6.3], [9.53, 7.1], [9.54, 7.9], [9.57, 8.6], [9.55, 9.4], [9.66, 6.9], [9.63, 7.7], [9.64, 8.5], [9.67, 9.0], [9.65, 9.7],
  [9.76, 6.6], [9.73, 7.5], [9.74, 8.3], [9.77, 9.0], [9.75, 6.1], [9.86, 6.3], [9.83, 7.1], [9.84, 7.9], [9.87, 8.8], [9.85, 9.4],
  [9.96, 6.6], [9.93, 7.5], [9.94, 8.3], [9.97, 9.0], [9.95, 9.6],
];
const rightPlum: [number, number][] = [
  [0.81, 7.84], [1.73, 8.6], [2.65, 9.35], [4.1, 9.86], [3.0, 7.5], [3.55, 8.5], [4.5, 8.9], [4.85, 9.3], [5.2, 8.8], [5.6, 9.3],
  [6.0, 9.0], [6.3, 9.6], [6.7, 10.1], [7.0, 9.3], [7.3, 9.8], [7.65, 9.5], [8.06, 10.4], [8.3, 9.9], [8.57, 10.4], [8.8, 10.0],
  [9.1, 10.3], [9.4, 9.7], [9.7, 10.0], [5.1, 7.8], [5.3, 7.3], [5.5, 8.2], [5.7, 7.6], [5.9, 7.9], [6.1, 8.4], [6.3, 7.8],
  [6.5, 8.7], [6.7, 8.0], [6.9, 8.9], [7.1, 8.5], [7.3, 7.9], [7.5, 8.8], [7.7, 9.1], [7.9, 8.4], [8.1, 9.2], [8.3, 8.6],
  [8.5, 9.4], [8.7, 8.8], [8.9, 9.5], [9.1, 9.0], [9.3, 9.6], [9.5, 9.1], [9.7, 9.5], [9.9, 9.2], [9.95, 8.7], [8.0, 7.7],
  [8.6, 7.9], [9.2, 8.3], [9.6, 7.9], [7.4, 6.6], [6.8, 6.1], [6.2, 7.0], [5.8, 6.9], [5.4, 6.9], [6.5, 5.5], [7.2, 5.8],
  [8.1, 5.9], [8.9, 6.3], [9.4, 6.7], [7.7, 6.4],
];

const FONT = "'DejaVu Sans', sans-serif";
const INK = '#262626';

const toPoints = (pairs: [number, number][]) => pairs.map(([x, y]) => ({ x, y }));

const plotBackground = {
  id: 'plotBackground',
  beforeDraw(chart: any) {
    const { ctx, chartArea } = chart;
    ctx.save();
    ctx.fillStyle = '#EAEAF2';
    ctx.fillRect(chartArea.left, chartArea.top, chartArea.right - chartArea.left, chartArea.bottom - chartArea.top);
    ctx.restore();
  },
};

function scatterSet(pairs: [number, number][], color: string) {
  return {
    type: 'scatter' as const,
    data: toPoints(pairs),
    backgroundColor: color,
    borderColor: '#ffffff',
    borderWidth: 0.7,
    pointRadius: 3.8,
    order: 1,
  };
}

function buildConfig(title: string, groups: [[number, number][], string][], left: boolean, rightPad: number) {
  const datasets: any[] = [
    {
      type: 'scatter',
      data: toPoints(identityLine),
      showLine: true,
      borderColor: '#4C72B0',
      borderWidth: 2,
      pointRadius: 0,
      order: 0,
    },
    ...groups.map(([pairs, color]) => scatterSet(pairs, color)),
  ];
  return {
    type: 'scatter' as const,
    data: { datasets },
    plugins: [plotBackground],
    options: {
      animation: false,
      responsive: false,
      events: [],
      layout: { padding: { top: 22.8, right: rightPad, bottom: 0, left: 0 } },
      plugins: {
        legend: { display: false },
        tooltip: { enabled: false },
        title: {
          display: true,
          text: title,
          fullSize: false,
          color: INK,
          font: { family: FONT, size: 27.5, weight: 'normal', lineHeight: 0.88 },
          padding: 0,
        },
      },
      scales: {
        x: {
          type: 'linear',
          min: xLimits[0],
          max: xLimits[1],
          afterBuildTicks: (scale: any) => { scale.ticks = xTicks.map((v) => ({ value: v })); },
          afterFit: (scale: any) => { scale.height = 86; },
          grid: { color: '#ffffff', lineWidth: 1.3, drawTicks: false },
          border: { display: false },
          ticks: {
            color: INK,
            padding: 9,
            maxRotation: 0,
            font: { family: FONT, size: 27.5 },
            callback: (v: any) => Number(v).toFixed(1),
          },
          title: {
            display: true,
            text: 'Ground truth [%]',
            color: INK,
            font: { family: FONT, size: 27.5, lineHeight: 1.2 },
            padding: { top: 0, bottom: 13.5 },
          },
        },
        y: {
          type: 'linear',
          min: yLimits[0],
          max: yLimits[1],
          afterBuildTicks: (scale: any) => { scale.ticks = yTicks.map((v) => ({ value: v })); },
          afterFit: (scale: any) => { scale.width = left ? 86 : 25; },
          grid: { color: '#ffffff', lineWidth: 1.3, drawTicks: false },
          border: { display: false },
          ticks: {
            display: left,
            color: INK,
            padding: 11,
            font: { family: FONT, size: 27.5 },
            callback: (v: any) => (v < 0 ? '\u2212' + Math.abs(v) : String(v)),
          },
          title: {
            display: left,
            text: 'Prediction [%]',
            color: INK,
            font: { family: FONT, size: 27.5, lineHeight: 1.2 },
            padding: { top: 0, bottom: 0 },
          },
        },
      },
    },
  };
}

function Panel({ config, width, leftPos }: { config: any; width: number; leftPos: number }) {
  const canvasRef = useRef<HTMLCanvasElement>(null);

  useEffect(() => {
    if (!canvasRef.current) return;
    const chart = new Chart(canvasRef.current, config);
    return () => {
      chart.destroy();
    };
  }, [config]);

  return (
    <canvas
      ref={canvasRef}
      width={width}
      height={648}
      style={{ position: 'absolute', left: leftPos, top: 0, width, height: 648 }}
    />
  );
}

const leftConfig = buildConfig('3-med', [
  [leftPink, shades[2]],
  [leftRose, shades[3]],
  [leftMid, shades[5]],
  [leftDark, shades[6]],
  [leftDarkCore, shades[6]],
], true, 13);

const rightConfig = buildConfig('27-equi', [
  [rightLight, shades[0]],
  [rightLightCore, shades[0]],
  [rightPale, shades[1]],
  [rightPaleCore, shades[1]],
  [rightRose, shades[2]],
  [rightRoseCore, shades[2]],
  [rightPlum, shades[7]],
  [rightMauve, shades[3]],
  [rightMauveCore, shades[4]],
], false, 26);

export default function App() {
  useEffect(() => {
    document.body.style.margin = '0';
  }, []);

  return (
    <div style={{ position: 'relative', width: 1152, height: 648, background: '#ffffff', overflow: 'hidden' }}>
      <Panel config={leftConfig} width={600} leftPos={0} />
      <Panel config={rightConfig} width={552} leftPos={600} />
      <div
        style={{
          position: 'absolute',
          left: 624,
          top: 1.5,
          transform: 'translateX(-50%)',
          fontFamily: FONT,
          fontSize: 27.8,
          lineHeight: 1,
          color: INK,
          fontStyle: 'italic',
          whiteSpace: 'nowrap',
        }}
      >
        v<span style={{ fontSize: 20, verticalAlign: -5, lineHeight: 1 }}>HB</span>
      </div>
    </div>
  );
}
